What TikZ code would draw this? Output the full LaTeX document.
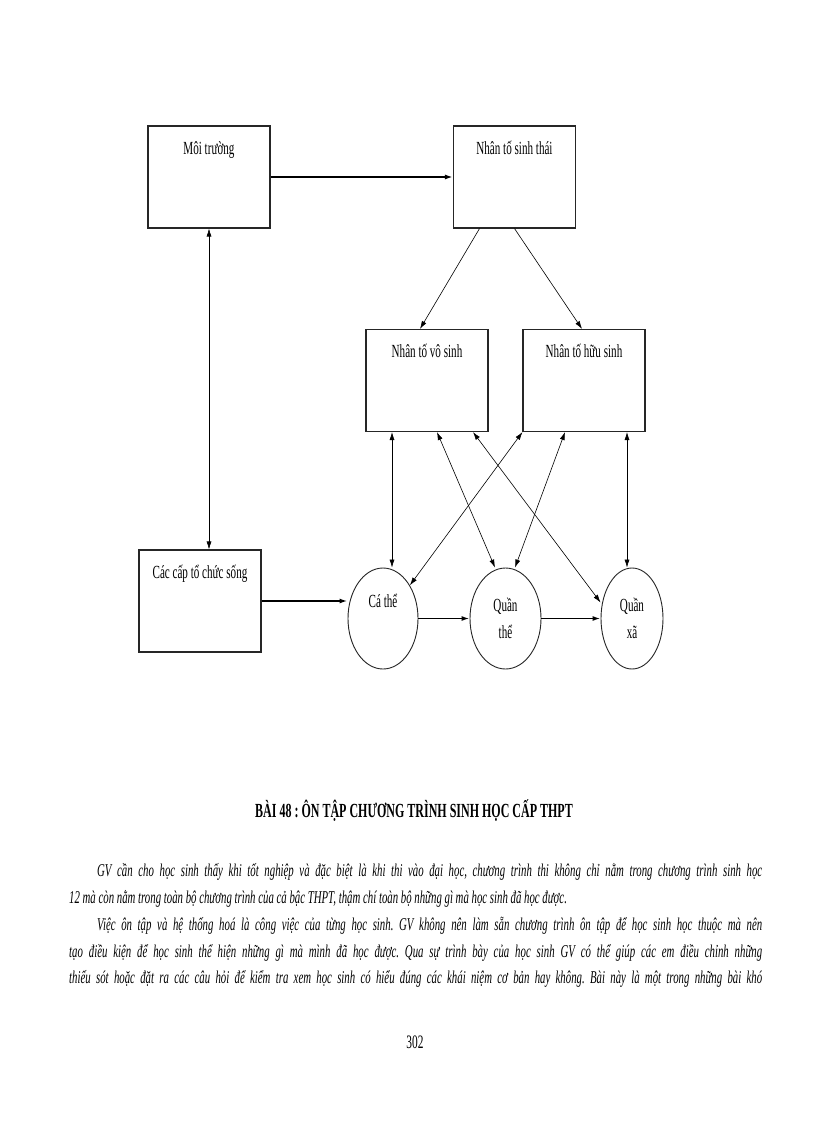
\documentclass[tikz,border=0pt]{standalone}
\usepackage{fontspec}
\setmainfont{Liberation Serif}
\newfontfamily\tallfont{Liberation Serif}[FakeStretch=0.6]
\usetikzlibrary{shapes.geometric,arrows.meta}
\frenchspacing

\tikzstyle{factorBox}=[shape=rectangle,draw=black!85,line width=1.1pt,minimum width=122pt,minimum height=102pt,inner sep=0pt]
\tikzstyle{levelState}=[shape=ellipse,draw=black!85,line width=0.9pt,inner sep=0pt,minimum height=101pt,align=center,font=\tallfont\fontsize{18.5}{27}\selectfont]
\tikzstyle{boxText}=[font=\tallfont\fontsize{18.5}{22}\selectfont,anchor=base,yshift=-29pt]
\tikzstyle{bodyLine}=[font=\tallfont\itshape\fontsize{18}{27}\selectfont,anchor=base west,inner sep=0pt]

\begin{document}
\begin{tikzpicture}[x=1pt,y=-1pt,>={Latex[length=8pt,width=5pt]}]
        \path[use as bounding box,fill=white] (0,0) rectangle (816,1123);

        % factors
        \node[factorBox,label={[boxText]north:Môi trường}]        (env)  at (209,177)   {};
        \node[factorBox,label={[boxText]north:Nhân tố sinh thái}] (eco)  at (514.5,177) {};
        \node[factorBox,label={[boxText]north:Nhân tố vô sinh}]   (abio) at (427,380.5) {};
        \node[factorBox,label={[boxText]north:Nhân tố hữu sinh}]  (bio)  at (584,380.5) {};
        \node[factorBox,label={[boxText]north:Các cấp tổ chức sống}] (levels) at (200,601) {};

        % levels of organisation
        \node[levelState,minimum width=70pt,label={[boxText,yshift=-11pt]north:Cá thể}] (ind) at (383,618.5) {};
        \node[levelState,minimum width=71pt] (pop) at (505.5,618.5) {Quần\\thể};
        \node[levelState,minimum width=62pt] (com) at (632,618.5)   {Quần\\xã};

        \draw [->,ultra thick] (env) to (eco);
        \draw [->,semithick] ([xshift=-35pt]eco.south) to ([xshift=-7pt]abio.north);
        \draw [->,semithick] (eco.south) to ([xshift=-2pt]bio.north);
        \draw [<->,semithick] (env.south) to ([xshift=9pt]levels.north);

        \draw [->,ultra thick] (levels.east) to (levels.east -| ind.west);
        \draw [->,ultra thick] (ind) to (pop);
        \draw [->,ultra thick] (pop) to (com);

        \draw [<->,semithick] ([xshift=-35pt]abio.south) to ([xshift=9pt]ind.north);
        \draw [<->,semithick] ([xshift=10pt]abio.south) to ([xshift=-10.5pt]pop.north);
        \draw [<->,semithick] ([xshift=46pt]abio.south) to ([yshift=16pt]com.west);
        \draw [<->,semithick] (bio.south west) to (ind.51);
        \draw [<->,semithick] ([xshift=-19pt]bio.south) to ([xshift=9.5pt]pop.north);
        \draw [<->,semithick] ([xshift=43pt]bio.south) to ([xshift=-5pt]com.north);

        % text of the page
        \node[font=\tallfont\bfseries\fontsize{20}{24}\selectfont,anchor=base] (title) at (414,817) {BÀI 48 : ÔN TẬP CHƯƠNG TRÌNH SINH HỌC CẤP THPT};
        \node[bodyLine] (line1) at (97,876)  {\makebox[665pt][s]{GV cần cho học sinh thấy khi tốt nghiệp và đặc biệt là khi thi vào đại học, chương trình thi không chỉ nằm trong chương trình sinh học}};
        \node[bodyLine] (line2) at (69,903)  {12 mà còn nằm trong toàn bộ chương trình của cả bậc THPT, thậm chí toàn bộ những gì mà học sinh đã học được.};
        \node[bodyLine] (line3) at (97,930)  {\makebox[665pt][s]{Việc ôn tập và hệ thống hoá là công việc của từng học sinh. GV không nên làm sẵn chương trình ôn tập để học sinh học thuộc mà nên}};
        \node[bodyLine] (line4) at (69,957)  {\makebox[693pt][s]{tạo điều kiện để học sinh thể hiện những gì mà mình đã học được. Qua sự trình bày của học sinh GV có thể giúp các em điều chỉnh những}};
        \node[bodyLine] (line5) at (69,983)  {\makebox[693pt][s]{thiếu sót hoặc đặt ra các câu hỏi để kiểm tra xem học sinh có hiểu đúng các khái niệm cơ bản hay không. Bài này là một trong những bài khó}};
        \node[font=\tallfont\fontsize{19}{22}\selectfont,anchor=base] (page) at (415,1048) {302};
\end{tikzpicture}
\end{document}
